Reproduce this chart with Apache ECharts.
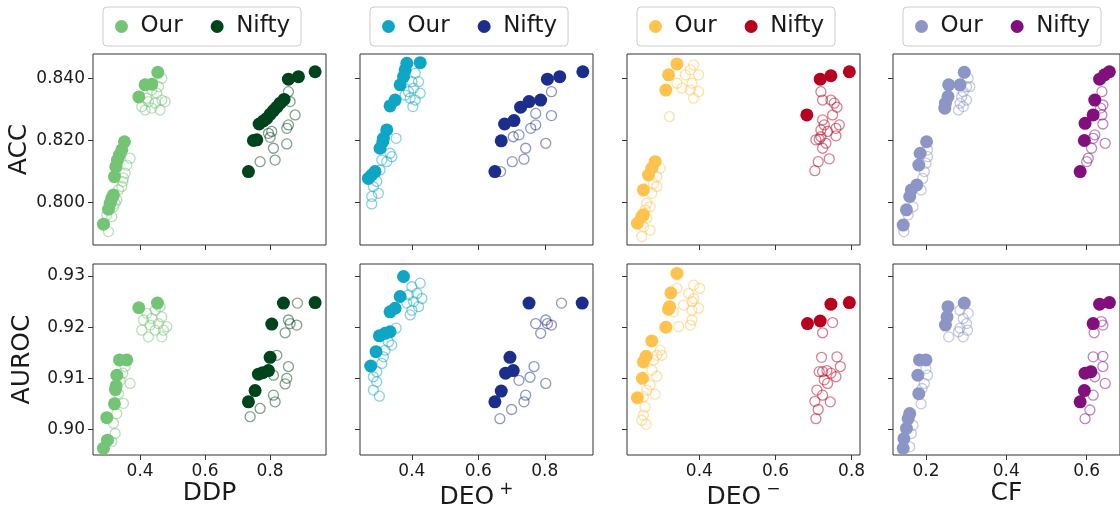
<!DOCTYPE html>
<html>
<head>
<meta charset="utf-8">
<script src="https://cdn.jsdelivr.net/npm/echarts@6/dist/echarts.min.js"></script>
<style>
html,body{margin:0;padding:0;background:#fff;overflow:hidden;}
#chart{width:1120px;height:515px;}
</style>
</head>
<body>
<div id="chart"></div>
<script>
// ---------- categories / labels ----------
const xMetrics = ['DDP', 'DEO+', 'DEO-', 'CF'];
const yMetrics = ['ACC', 'AUROC'];
const xTickValues = [[0.4, 0.6, 0.8], [0.4, 0.6, 0.8], [0.4, 0.6, 0.8], [0.2, 0.4, 0.6]];
const yTickValues = [[0.80, 0.82, 0.84], [0.90, 0.91, 0.92, 0.93]];
const seriesNames = ['Our', 'Nifty'];

// ---------- DDP vs ACC ----------
const ddpAccOur = [[0.4544,0.8419],[0.4154,0.8379],[0.4359,0.8381],[0.3959,0.8340],[0.3518,0.8196],[0.3436,0.8170],[0.3364,0.8153],[0.3303,0.8137],[0.3251,0.8116],[0.3210,0.8084],[0.3179,0.8025],[0.3128,0.8014],[0.3077,0.7998],[0.3026,0.7979],[0.2872,0.7931]];
const ddpAccNifty = [[0.9385,0.8421],[0.8872,0.8405],[0.8564,0.8397],[0.8431,0.8332],[0.8308,0.8320],[0.8205,0.8307],[0.8103,0.8296],[0.8000,0.8284],[0.7897,0.8271],[0.7795,0.8263],[0.7662,0.8253],[0.7590,0.8202],[0.7487,0.8200],[0.7333,0.8100]];
const ddpAccOurTrials = [[0.4667,0.8400],[0.4564,0.8373],[0.4359,0.8362],[0.4513,0.8352],[0.4205,0.8336],[0.4667,0.8330],[0.4769,0.8325],[0.4051,0.8309],[0.4154,0.8298],[0.4359,0.8304],[0.4615,0.8298],[0.4462,0.8320],[0.4256,0.8325],[0.3026,0.7907],[0.2974,0.7961],[0.3179,0.7987],[0.3282,0.8009],[0.3436,0.8052],[0.3487,0.8079],[0.3538,0.8095],[0.3590,0.8121],[0.3692,0.8143],[0.3467,0.8068],[0.3333,0.8041],[0.3231,0.7998],[0.3128,0.7955]];
const ddpAccNiftyTrials = [[0.8564,0.8357],[0.8615,0.8325],[0.8769,0.8282],[0.8564,0.8250],[0.8513,0.8239],[0.8051,0.8229],[0.8000,0.8210],[0.8103,0.8175],[0.8513,0.8189],[0.7692,0.8132],[0.8154,0.8137],[0.7949,0.8223]];

// ---------- DDP vs AUROC ----------
const ddpAucOur = [[0.3959,0.9238],[0.4533,0.9247],[0.3364,0.9136],[0.3590,0.9136],[0.3282,0.9106],[0.3262,0.9085],[0.3241,0.9078],[0.3210,0.9050],[0.2974,0.9023],[0.2995,0.8979],[0.2872,0.8963]];
const ddpAucNifty = [[0.8410,0.9247],[0.9385,0.9248],[0.8051,0.9206],[0.8000,0.9141],[0.7949,0.9115],[0.7774,0.9111],[0.7641,0.9108],[0.7538,0.9076],[0.7333,0.9054]];
const ddpAucOurTrials = [[0.4615,0.9240],[0.4462,0.9233],[0.4205,0.9227],[0.4667,0.9220],[0.4103,0.9214],[0.4359,0.9217],[0.4564,0.9207],[0.4051,0.9194],[0.4256,0.9181],[0.4718,0.9194],[0.4462,0.9194],[0.4667,0.9181],[0.4308,0.9204],[0.4821,0.9201],[0.3538,0.9123],[0.3692,0.9090],[0.3467,0.9110],[0.3487,0.9051],[0.3282,0.9031],[0.3179,0.9012],[0.3231,0.8992],[0.3128,0.8976],[0.3333,0.9070],[0.3385,0.9096]];
const ddpAucNiftyTrials = [[0.8841,0.9247],[0.8564,0.9214],[0.8615,0.9207],[0.8821,0.9204],[0.8462,0.9189],[0.8205,0.9145],[0.8564,0.9123],[0.8103,0.9106],[0.8513,0.9100],[0.8462,0.9089],[0.8103,0.9067],[0.8154,0.9054],[0.7692,0.9041],[0.7385,0.9025]];

// ---------- DEO+ vs ACC ----------
const deoPAccOur = [[0.4252,0.8450],[0.3849,0.8448],[0.3799,0.8427],[0.3749,0.8405],[0.3648,0.8379],[0.3496,0.8330],[0.3345,0.8311],[0.3245,0.8234],[0.3144,0.8207],[0.3124,0.8196],[0.3043,0.8175],[0.2892,0.8100],[0.2792,0.8089],[0.2691,0.8078]];
const deoPAccNifty = [[0.9144,0.8421],[0.8449,0.8405],[0.8079,0.8397],[0.7875,0.8330],[0.7525,0.8325],[0.7273,0.8307],[0.7072,0.8264],[0.6790,0.8253],[0.6689,0.8199],[0.6498,0.8100]];
const deoPAccOurTrials = [[0.4101,0.8416],[0.4000,0.8389],[0.4201,0.8389],[0.4050,0.8368],[0.3899,0.8357],[0.4252,0.8352],[0.3950,0.8336],[0.4101,0.8330],[0.4030,0.8309],[0.3799,0.8346],[0.3527,0.8207],[0.3345,0.8159],[0.3396,0.8148],[0.3245,0.8132],[0.3094,0.8137],[0.3043,0.8105],[0.2943,0.8068],[0.2842,0.8052],[0.2993,0.8030],[0.2792,0.8020],[0.2792,0.7996]];
const deoPAccNiftyTrials = [[0.8200,0.8357],[0.7726,0.8287],[0.8200,0.8280],[0.7575,0.8239],[0.7726,0.8250],[0.7223,0.8218],[0.7051,0.8212],[0.7424,0.8175],[0.7021,0.8132],[0.7374,0.8140],[0.8028,0.8191],[0.6669,0.8100]];

// ---------- DEO+ vs AUROC ----------
const deoPAucOur = [[0.3749,0.9299],[0.3648,0.9260],[0.3496,0.9237],[0.3345,0.9230],[0.3345,0.9191],[0.3195,0.9188],[0.3023,0.9183],[0.2923,0.9152],[0.2762,0.9124]];
const deoPAucNifty = [[0.7525,0.9247],[0.9124,0.9247],[0.6951,0.9141],[0.7051,0.9115],[0.6820,0.9110],[0.6689,0.9075],[0.6498,0.9054]];
const deoPAucOurTrials = [[0.4252,0.9286],[0.4000,0.9279],[0.4151,0.9266],[0.3899,0.9263],[0.4302,0.9256],[0.4050,0.9250],[0.3849,0.9247],[0.4201,0.9240],[0.4000,0.9233],[0.3950,0.9224],[0.3527,0.9198],[0.3396,0.9165],[0.3295,0.9171],[0.3144,0.9142],[0.3094,0.9129],[0.2943,0.9113],[0.2842,0.9103],[0.2943,0.9093],[0.2842,0.9077],[0.3023,0.9065],[0.3195,0.9155]];
const deoPAucNiftyTrials = [[0.8502,0.9247],[0.7726,0.9207],[0.8028,0.9214],[0.8079,0.9207],[0.8200,0.9204],[0.7877,0.9188],[0.7676,0.9123],[0.7223,0.9096],[0.7555,0.9102],[0.8028,0.9090],[0.7424,0.9067],[0.7374,0.9054],[0.7001,0.9039],[0.6649,0.9021]];

// ---------- DEO- vs ACC ----------
const deoMAccOur = [[0.3411,0.8446],[0.3191,0.8411],[0.3120,0.8362],[0.2839,0.8132],[0.2751,0.8111],[0.2663,0.8089],[0.2531,0.8041],[0.2531,0.7961],[0.2487,0.7955],[0.2373,0.7934]];
const deoMAccNifty = [[0.7940,0.8421],[0.7456,0.8408],[0.7175,0.8397],[0.6823,0.8282]];
const deoMAccOurTrials = [[0.3850,0.8443],[0.3763,0.8427],[0.3982,0.8411],[0.3631,0.8411],[0.3411,0.8384],[0.3807,0.8384],[0.3543,0.8368],[0.3763,0.8362],[0.3982,0.8357],[0.3850,0.8336],[0.3217,0.8277],[0.2971,0.8111],[0.2883,0.8084],[0.2795,0.8062],[0.2883,0.8052],[0.2751,0.8030],[0.2619,0.7998],[0.2707,0.7987],[0.2575,0.7977],[0.2619,0.7950],[0.2531,0.7923],[0.2707,0.7912],[0.2487,0.7891]];
const deoMAccNiftyTrials = [[0.7193,0.8357],[0.7237,0.8330],[0.7456,0.8330],[0.7544,0.8320],[0.7615,0.8307],[0.7500,0.8282],[0.7237,0.8266],[0.7281,0.8250],[0.7676,0.8250],[0.7193,0.8234],[0.7588,0.8239],[0.7368,0.8229],[0.7193,0.8212],[0.7061,0.8202],[0.7149,0.8204],[0.7325,0.8191],[0.7237,0.8175],[0.7122,0.8132],[0.7412,0.8141],[0.7034,0.8103],[0.7588,0.8215]];

// ---------- DEO- vs AUROC ----------
const deoMAucOur = [[0.3411,0.9305],[0.3252,0.9267],[0.3217,0.9240],[0.3191,0.9235],[0.3120,0.9200],[0.2751,0.9173],[0.2601,0.9143],[0.2531,0.9132],[0.2505,0.9100],[0.2373,0.9062]];
const deoMAucNifty = [[0.7940,0.9248],[0.7456,0.9245],[0.7175,0.9212],[0.6841,0.9207]];
const deoMAucOurTrials = [[0.3411,0.9276],[0.3850,0.9282],[0.4009,0.9276],[0.3719,0.9266],[0.3850,0.9256],[0.3587,0.9243],[0.3807,0.9250],[0.3982,0.9237],[0.3807,0.9233],[0.3323,0.9230],[0.3807,0.9214],[0.3763,0.9204],[0.3455,0.9201],[0.2971,0.9155],[0.2883,0.9145],[0.3015,0.9145],[0.2795,0.9136],[0.2751,0.9116],[0.2883,0.9104],[0.2707,0.9087],[0.2619,0.9077],[0.2839,0.9069],[0.2531,0.9064],[0.2575,0.9044],[0.2531,0.9028],[0.2487,0.9018],[0.2602,0.9010]];
const deoMAucNiftyTrials = [[0.7500,0.9209],[0.7237,0.9189],[0.7210,0.9141],[0.7615,0.9142],[0.7703,0.9123],[0.7237,0.9113],[0.7351,0.9115],[0.7456,0.9110],[0.7149,0.9113],[0.7588,0.9103],[0.7281,0.9097],[0.7368,0.9090],[0.7087,0.9077],[0.7237,0.9067],[0.7034,0.9055],[0.7439,0.9054],[0.7122,0.9039],[0.7061,0.9021]];

// ---------- CF vs ACC ----------
const cfAccOur = [[0.2954,0.8419],[0.2848,0.8379],[0.2566,0.8379],[0.2549,0.8341],[0.2485,0.8320],[0.2469,0.8304],[0.2016,0.8196],[0.1855,0.8159],[0.1822,0.8121],[0.1774,0.8057],[0.1636,0.8041],[0.1596,0.8020],[0.1515,0.7977],[0.1434,0.7928]];
const cfAccNifty = [[0.6566,0.8421],[0.6444,0.8411],[0.6323,0.8397],[0.6202,0.8330],[0.6162,0.8282],[0.5960,0.8255],[0.5943,0.8200],[0.5838,0.8100]];
const cfAccOurTrials = [[0.3051,0.8400],[0.3010,0.8373],[0.3091,0.8373],[0.2929,0.8357],[0.2889,0.8341],[0.3010,0.8330],[0.2848,0.8320],[0.2929,0.8309],[0.2808,0.8298],[0.2040,0.8148],[0.2000,0.8127],[0.1960,0.8100],[0.1919,0.8078],[0.1879,0.8041],[0.1677,0.7987],[0.1556,0.7961],[0.1451,0.7907],[0.2040,0.8170]];
const cfAccNiftyTrials = [[0.6380,0.8357],[0.6404,0.8314],[0.6347,0.8304],[0.6380,0.8282],[0.6404,0.8253],[0.6202,0.8218],[0.6162,0.8207],[0.6121,0.8175],[0.6040,0.8143],[0.6000,0.8132],[0.6461,0.8191]];

// ---------- CF vs AUROC ----------
const cfAucOur = [[0.2954,0.9247],[0.2549,0.9240],[0.2525,0.9220],[0.2485,0.9204],[0.2000,0.9136],[0.1838,0.9136],[0.1798,0.9106],[0.1822,0.9070],[0.1596,0.9031],[0.1556,0.9021],[0.1515,0.9002],[0.1451,0.8982],[0.1434,0.8963]];
const cfAucNifty = [[0.6566,0.9248],[0.6323,0.9245],[0.6162,0.9207],[0.6105,0.9113],[0.5960,0.9110],[0.5943,0.9076],[0.5838,0.9054]];
const cfAucOurTrials = [[0.2848,0.9233],[0.3051,0.9227],[0.2929,0.9217],[0.3010,0.9207],[0.2848,0.9198],[0.3034,0.9194],[0.2566,0.9181],[0.2929,0.9181],[0.2808,0.9191],[0.2000,0.9119],[0.2040,0.9106],[0.1960,0.9090],[0.1903,0.9080],[0.1879,0.9050],[0.1677,0.9008],[0.1636,0.8992],[0.1596,0.8966]];
const cfAucNiftyTrials = [[0.6364,0.9211],[0.6404,0.9204],[0.6186,0.9189],[0.6162,0.9142],[0.6404,0.9143],[0.6404,0.9123],[0.6202,0.9103],[0.6461,0.9090],[0.6162,0.9067],[0.6081,0.9038],[0.5960,0.9021]];

// panel table: [row][col] -> {our, nifty, ourT, niftyT}
const panels = [
  [
    {our: ddpAccOur, nifty: ddpAccNifty, ourT: ddpAccOurTrials, niftyT: ddpAccNiftyTrials},
    {our: deoPAccOur, nifty: deoPAccNifty, ourT: deoPAccOurTrials, niftyT: deoPAccNiftyTrials},
    {our: deoMAccOur, nifty: deoMAccNifty, ourT: deoMAccOurTrials, niftyT: deoMAccNiftyTrials},
    {our: cfAccOur, nifty: cfAccNifty, ourT: cfAccOurTrials, niftyT: cfAccNiftyTrials}
  ],
  [
    {our: ddpAucOur, nifty: ddpAucNifty, ourT: ddpAucOurTrials, niftyT: ddpAucNiftyTrials},
    {our: deoPAucOur, nifty: deoPAucNifty, ourT: deoPAucOurTrials, niftyT: deoPAucNiftyTrials},
    {our: deoMAucOur, nifty: deoMAucNifty, ourT: deoMAucOurTrials, niftyT: deoMAucNiftyTrials},
    {our: cfAucOur, nifty: cfAucNifty, ourT: cfAucOurTrials, niftyT: cfAucNiftyTrials}
  ]
];

// ---------- styling / layout ----------
const colColors = [
  ['#74c476', '#00441b'],
  ['#0fa5c5', '#1b2e8c'],
  ['#ffc34d', '#b8001f'],
  ['#8c96c6', '#810f7c']
];
const xRanges = [[0.255, 0.972], [0.244, 0.945], [0.210, 0.822], [0.118, 0.683]];
const yRanges = [[0.7864, 0.8478], [0.8950, 0.93235]];
const colLeft = [93, 360, 627, 893];
const rowTop = [54, 264];
const panelW = 233, panelH = 191;
const FONT = 'DejaVu Sans';

const grids = [], xAxes = [], yAxes = [], series = [], legends = [];

function xName(m) {
  if (m === 'DEO+') return '{b|DEO}{s|+}';
  if (m === 'DEO-') return '{b|DEO}{s|\u2212}';
  return '{b|' + m + '}';
}

let gi = 0;
for (let r = 0; r < 2; r++) {
  for (let c = 0; c < 4; c++) {
    grids.push({
      left: colLeft[c], top: rowTop[r], width: panelW, height: panelH,
      show: true, borderColor: '#333333', borderWidth: 1, backgroundColor: '#fff',
      containLabel: false
    });
    xAxes.push({
      type: 'value', gridIndex: gi,
      min: xRanges[c][0], max: xRanges[c][1],
      axisLine: {show: false},
      splitLine: {show: false},
      axisTick: {show: true, length: 5, customValues: xTickValues[c], lineStyle: {color: '#333333', width: 1}},
      axisLabel: {
        show: r === 1, customValues: xTickValues[c], margin: 8,
        formatter: v => v.toFixed(1),
        fontFamily: FONT, fontSize: 17, color: '#1a1a1a'
      },
      name: r === 1 ? xName(xMetrics[c]) : '',
      nameLocation: 'middle', nameGap: 24,
      nameTextStyle: {
        fontFamily: FONT, color: '#1a1a1a',
        rich: {
          b: {fontFamily: FONT, fontSize: 25, color: '#1a1a1a'},
          s: {fontFamily: FONT, fontSize: 17, color: '#1a1a1a', padding: [0, 0, 16, 5]}
        }
      }
    });
    yAxes.push({
      type: 'value', gridIndex: gi,
      min: yRanges[r][0], max: yRanges[r][1],
      axisLine: {show: false},
      splitLine: {show: false},
      axisTick: {show: true, length: 5, customValues: yTickValues[r], lineStyle: {color: '#333333', width: 1}},
      axisLabel: {
        show: c === 0, customValues: yTickValues[r], margin: 8,
        formatter: v => r === 0 ? v.toFixed(3) : v.toFixed(2),
        fontFamily: FONT, fontSize: 17, color: '#1a1a1a'
      },
      name: c === 0 ? yMetrics[r] : '',
      nameLocation: 'middle', nameGap: 58, nameRotate: 90,
      nameTextStyle: {fontFamily: FONT, fontSize: 25, color: '#1a1a1a'}
    });
    const p = panels[r][c];
    const [cOur, cNifty] = colColors[c];
    const hollow = (data, col, name) => ({
      type: 'scatter', name: name, xAxisIndex: gi, yAxisIndex: gi,
      data: data, symbol: 'circle', symbolSize: 10, z: 2,
      itemStyle: {color: 'rgba(0,0,0,0)', borderColor: col, borderWidth: 1.3, opacity: 0.5},
      emphasis: {disabled: true}, silent: true
    });
    const filled = (data, col, name) => ({
      type: 'scatter', name: name, xAxisIndex: gi, yAxisIndex: gi,
      data: data, symbol: 'circle', symbolSize: 13, z: 3,
      itemStyle: {color: col, opacity: 1},
      emphasis: {disabled: true}, silent: true
    });
    series.push(hollow(p.ourT, cOur, 'OurT' + gi));
    series.push(hollow(p.niftyT, cNifty, 'NiftyT' + gi));
    series.push(filled(p.our, cOur, seriesNames[0] + '_' + c + '_' + r));
    series.push(filled(p.nifty, cNifty, seriesNames[1] + '_' + c + '_' + r));
    gi++;
  }
}

for (let c = 0; c < 4; c++) {
  legends.push({
    data: [seriesNames[0] + '_' + c + '_0', seriesNames[1] + '_' + c + '_0'],
    formatter: n => n.split('_')[0],
    left: colLeft[c] + 10, top: 7,
    orient: 'horizontal',
    icon: 'circle', itemWidth: 28, itemHeight: 13, itemGap: 28,
    padding: [8, 11, 8, 12],
    borderColor: '#cccccc', borderWidth: 1, borderRadius: 4,
    backgroundColor: '#fff',
    selectedMode: false,
    textStyle: {fontFamily: FONT, fontSize: 23, color: '#1a1a1a'}
  });
}

const chart = echarts.init(document.getElementById('chart'), null, {renderer: 'canvas'});
chart.setOption({
  animation: false,
  backgroundColor: '#ffffff',
  grid: grids, xAxis: xAxes, yAxis: yAxes, series: series, legend: legends
});
</script>
</body>
</html>
